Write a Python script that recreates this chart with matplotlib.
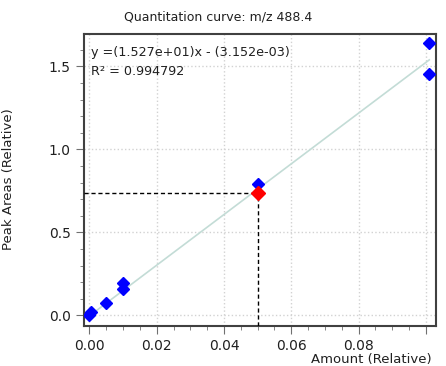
import matplotlib.pyplot as plt
import numpy as np
from matplotlib.ticker import MultipleLocator

# calibration points
amount = [0.0, 0.0005, 0.005, 0.01, 0.01, 0.05, 0.101, 0.101]
area = [0.005, 0.02, 0.072, 0.158, 0.193, 0.791, 1.642, 1.452]

# unknown sample
unk_x = 0.05
unk_y = 0.739

slope = 15.27
intercept = -0.003152
eq_text = "y =(1.527e+01)x - (3.152e-03)"
r2_text = "R² = 0.994792"

fig = plt.figure(figsize=(4.46, 3.66), dpi=100)
ax = fig.add_axes([84 / 446, 40 / 366, 352 / 446, 292 / 366])

xfit = np.array([min(amount), max(amount)])
ax.plot(xfit, slope * xfit + intercept, color='#c3dcd6', lw=1.2, zorder=2)

ax.plot(amount, area, linestyle='none', marker='D', color='#0000ff',
        markersize=6.5, zorder=3)

xmin, xmax = -0.0016, 0.103
ymin, ymax = -0.064, 1.695
ax.plot([xmin, unk_x], [unk_y, unk_y], 'k--', lw=1, dashes=(3, 2), zorder=4)
ax.plot([unk_x, unk_x], [ymin, unk_y], 'k--', lw=1, dashes=(3, 2), zorder=4)
ax.plot([unk_x], [unk_y], linestyle='none', marker='D', color='#ff0000',
        markersize=7.5, zorder=5)

ax.set_xlim(xmin, xmax)
ax.set_ylim(ymin, ymax)
ax.xaxis.set_minor_locator(MultipleLocator(0.005))
ax.yaxis.set_minor_locator(MultipleLocator(0.1))
ax.set_xticks([0.0, 0.02, 0.04, 0.06, 0.08, 0.1])
ax.set_xticklabels(['0.00', '0.02', '0.04', '0.06', '0.08', ''])
ax.set_yticks([0.0, 0.5, 1.0, 1.5])
ax.set_yticklabels(['0.0', '0.5', '1.0', '1.5'])

ax.grid(True, which='major', color='#d2d2d2', linestyle=':', lw=1)
ax.tick_params(which='both', direction='out', color='#707070',
               labelsize=10, labelcolor='#202020')
ax.tick_params(which='major', length=6)
ax.tick_params(which='minor', length=3)
for s in ax.spines.values():
    s.set_color('#404040')
    s.set_linewidth(1.5)

ax.text(0.02, 0.935, eq_text, transform=ax.transAxes, fontsize=9.2,
        color='#202020', va='center')
ax.text(0.02, 0.873, r2_text, transform=ax.transAxes, fontsize=9.2,
        color='#202020', va='center')

fig.text(218 / 446, 1 - 17 / 366, "Quantitation curve: m/z 488.4",
         ha='center', va='center', fontsize=9, color='#202020')
fig.text(432 / 446, 1 - 359 / 366, "Amount (Relative)",
         ha='right', va='center', fontsize=9.5, color='#202020')
fig.text(9 / 446, 1 - 179 / 366, "Peak Areas (Relative)", rotation=90,
         ha='center', va='center', fontsize=9.5, color='#202020')

fig.savefig('out.png', dpi=100)
